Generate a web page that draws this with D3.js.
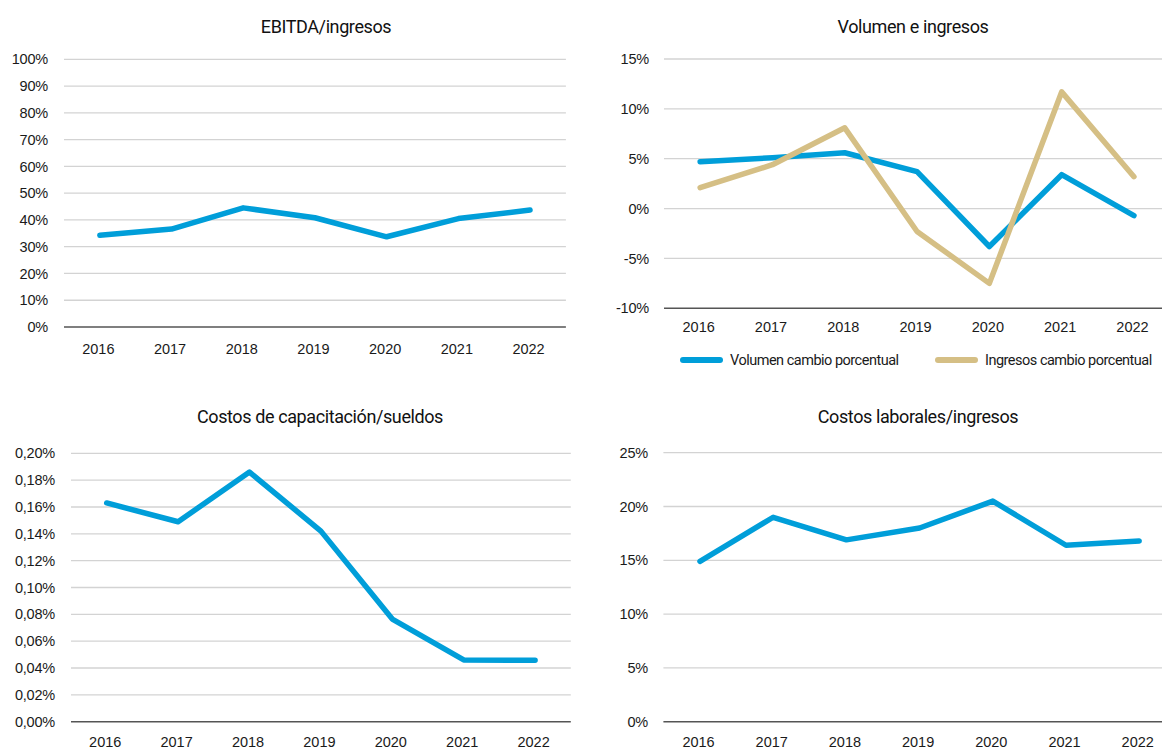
<!DOCTYPE html>
<html>
<head>
<meta charset="utf-8">
<script src="https://cdn.jsdelivr.net/npm/d3@7/dist/d3.min.js"></script>
<style>
  html, body { margin: 0; padding: 0; background: #fff; }
  svg { display: block; font-family: Roboto, "Liberation Sans", sans-serif; }
  .tick text { fill: #1a1a1a; }
</style>
</head>
<body>
<svg id="chart" width="1162" height="749"></svg>
<script>
// Years shared by every panel
const years = ["2016", "2017", "2018", "2019", "2020", "2021", "2022"];

// EBITDA / ingresos (%)
const ebitda = [34.3, 36.6, 44.5, 40.8, 33.7, 40.5, 43.7];

// Volumen e ingresos, cambio porcentual (%)
const volumen = [4.7, 5.1, 5.6, 3.7, -3.8, 3.4, -0.7];
const ingresos = [2.1, 4.4, 8.1, -2.3, -7.5, 11.7, 3.2];

// Costos de capacitación / sueldos (%)
const capacitacion = [0.163, 0.149, 0.186, 0.142, 0.0765, 0.046, 0.0458];

// Costos laborales / ingresos (%)
const laborales = [14.9, 19.0, 16.9, 18.0, 20.5, 16.4, 16.8];

// Tick values per panel
const ticksEbitda = [0, 10, 20, 30, 40, 50, 60, 70, 80, 90, 100];
const ticksVol = [-10, -5, 0, 5, 10, 15];
const ticksCap = [0, 0.02, 0.04, 0.06, 0.08, 0.10, 0.12, 0.14, 0.16, 0.18, 0.20];
const ticksLab = [0, 5, 10, 15, 20, 25];

const legendLabels = ["Volumen cambio porcentual", "Ingresos cambio porcentual"];

const BLUE = "#009ed9";
const GOLD = "#d5bf85";

const svg = d3.select("#chart");

const fmtPct = d => d + "%";
const fmtCap = d => d3.format(".2f")(d).replace(".", ",") + "%";

function panel(cfg) {
  const g = svg.append("g");
  const x = d3.scalePoint().domain(years).range([cfg.x0 + cfg.step / 2, cfg.x0 + cfg.step * 6.5]);
  const y = d3.scaleLinear().domain(cfg.domain).range([cfg.yBottom, cfg.yTop]);
  const xRight = cfg.x0 + cfg.step * 7;

  // title
  g.append("text")
    .attr("x", cfg.titleX).attr("y", cfg.titleY)
    .attr("text-anchor", "middle")
    .attr("font-size", 18)
    .attr("letter-spacing", -0.4)
    .attr("fill", "#111")
    .text(cfg.title);

  // horizontal gridlines
  g.append("g").selectAll("line")
    .data(cfg.ticks.filter(t => t !== cfg.domain[0]))
    .join("line")
    .attr("x1", cfg.x0).attr("x2", xRight)
    .attr("y1", d => y(d)).attr("y2", d => y(d))
    .attr("stroke", "#d3d3d3").attr("stroke-width", 1.3);

  // y axis labels
  const yAxis = d3.axisLeft(y).tickValues(cfg.ticks).tickFormat(cfg.fmt).tickSize(0).tickPadding(0);
  const ya = g.append("g").attr("transform", `translate(${cfg.labelRight},0)`).call(yAxis);
  ya.select(".domain").remove();
  ya.selectAll("text").attr("font-size", 14.5).attr("font-family", null).attr("letter-spacing", -0.2);

  // baseline
  g.append("line")
    .attr("x1", cfg.x0).attr("x2", xRight)
    .attr("y1", y(cfg.domain[0])).attr("y2", y(cfg.domain[0]))
    .attr("stroke", "#555").attr("stroke-width", 1.5);

  // x axis labels
  const xAxis = d3.axisBottom(x).tickSize(0).tickPadding(0);
  const xa = g.append("g").attr("transform", `translate(-2,${cfg.xLabelY})`).call(xAxis);
  xa.select(".domain").remove();
  xa.selectAll("text").attr("font-size", 14.5).attr("font-family", null).attr("dy", "0.35em");

  // lines
  const line = d3.line().x((d, i) => x(years[i])).y(d => y(d));
  cfg.series.forEach(s => {
    g.append("path")
      .datum(s.values)
      .attr("d", line)
      .attr("fill", "none")
      .attr("stroke", s.color)
      .attr("stroke-width", 5.5)
      .attr("stroke-linejoin", "round")
      .attr("stroke-linecap", "round");
  });
  return g;
}

panel({
  title: "EBITDA/ingresos", titleX: 326, titleY: 33,
  x0: 64, step: 71.7, yTop: 59.3, yBottom: 327, domain: [0, 100],
  ticks: ticksEbitda, fmt: fmtPct, labelRight: 48, xLabelY: 349,
  series: [{ values: ebitda, color: BLUE }]
});

panel({
  title: "Volumen e ingresos", titleX: 913, titleY: 33,
  x0: 664, step: 72.3, yTop: 59, yBottom: 308.3, domain: [-10, 15],
  ticks: ticksVol, fmt: fmtPct, labelRight: 649, xLabelY: 327,
  series: [{ values: volumen, color: BLUE }, { values: ingresos, color: GOLD }]
});

panel({
  title: "Costos de capacitación/sueldos", titleX: 320, titleY: 423,
  x0: 71, step: 71.4, yTop: 453.3, yBottom: 721.7, domain: [0, 0.20],
  ticks: ticksCap, fmt: fmtCap, labelRight: 55, xLabelY: 741.5,
  series: [{ values: capacitacion, color: BLUE }]
});

panel({
  title: "Costos laborales/ingresos", titleX: 918, titleY: 423,
  x0: 663.4, step: 73.2, yTop: 452.7, yBottom: 721.7, domain: [0, 25],
  ticks: ticksLab, fmt: fmtPct, labelRight: 648, xLabelY: 741.5,
  series: [{ values: laborales, color: BLUE }]
});

// legend for the volume / revenue panel
const legendItems = [
  { label: legendLabels[0], color: BLUE, x: 683 },
  { label: legendLabels[1], color: GOLD, x: 938 }
];
const lg = svg.append("g").selectAll("g").data(legendItems).join("g")
  .attr("transform", d => `translate(${d.x},360)`);
lg.append("line")
  .attr("x1", 0).attr("x2", 37).attr("y1", 0).attr("y2", 0)
  .attr("stroke", d => d.color).attr("stroke-width", 6).attr("stroke-linecap", "round");
lg.append("text")
  .attr("x", 47).attr("y", 0).attr("dy", "0.35em")
  .attr("font-size", 14.5).attr("letter-spacing", -0.5).attr("fill", "#1a1a1a")
  .text(d => d.label);
</script>
</body>
</html>
